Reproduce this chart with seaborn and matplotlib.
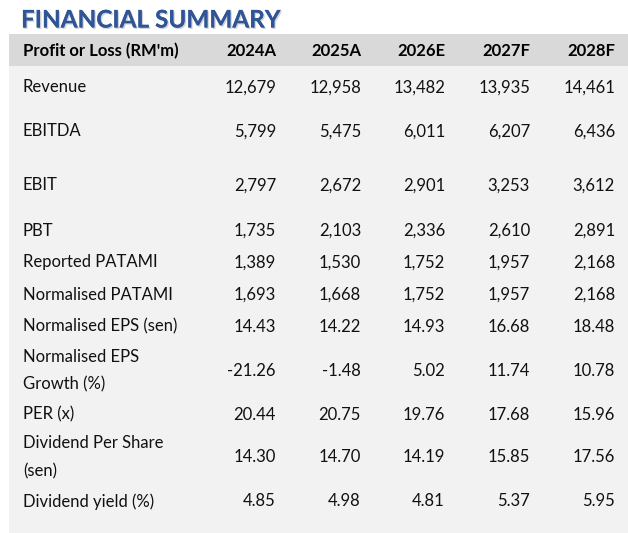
import matplotlib
matplotlib.use("Agg")
import matplotlib.pyplot as plt
import matplotlib.patheffects as pe
import seaborn as sns
import pandas as pd

sns.set_theme(style="white")
plt.rcParams["font.family"] = ["Lato", "DejaVu Sans"]

# --- data ---
title = "FINANCIAL SUMMARY"
header_label = "Profit or Loss (RM'm)"
years = ["2024A", "2025A", "2026E", "2027F", "2028F"]
metrics = ["Revenue", "EBITDA", "EBIT", "PBT", "Reported PATAMI",
           "Normalised PATAMI", "Normalised EPS (sen)",
           "Normalised EPS\nGrowth (%)", "PER (x)",
           "Dividend Per Share\n(sen)", "Dividend yield (%)"]
revenue = [12679, 12958, 13482, 13935, 14461]
ebitda = [5799, 5475, 6011, 6207, 6436]
ebit = [2797, 2672, 2901, 3253, 3612]
pbt = [1735, 2103, 2336, 2610, 2891]
reported_patami = [1389, 1530, 1752, 1957, 2168]
normalised_patami = [1693, 1668, 1752, 1957, 2168]
normalised_eps = [14.43, 14.22, 14.93, 16.68, 18.48]
eps_growth = [-21.26, -1.48, 5.02, 11.74, 10.78]
per = [20.44, 20.75, 19.76, 17.68, 15.96]
dps = [14.30, 14.70, 14.19, 15.85, 17.56]
div_yield = [4.85, 4.98, 4.81, 5.37, 5.95]
is_integer = [True, True, True, True, True, True, False, False, False, False, False]

df = pd.DataFrame([revenue, ebitda, ebit, pbt, reported_patami, normalised_patami,
                   normalised_eps, eps_growth, per, dps, div_yield],
                  index=metrics, columns=years)

# --- layout (pixels) ---
W, H = 628, 533
row_centers = [86, 130, 184, 229, 261, 293, 325, 369, 413, 456, 500]
col_right = [276, 361, 445, 530, 615]
label_x = 23
line_gap = 14

fig = plt.figure(figsize=(W / 100, H / 100), dpi=100)
ax = fig.add_axes([0, 0, 1, 1])
ax.set_xlim(0, W)
ax.set_ylim(H, 0)
ax.axis("off")

ax.add_patch(plt.Rectangle((9, 34), W - 9, 32, color="#D9D9D9", lw=0))
ax.add_patch(plt.Rectangle((9, 66), W - 9, H - 66, color="#F2F2F2", lw=0))

ax.text(21, 18, title, fontsize=17.5, fontweight="bold", color="#2F5597",
        va="center_baseline", ha="left",
        path_effects=[pe.withSimplePatchShadow(offset=(1, -1), alpha=0.2), pe.Normal()])

fs = 12
ax.text(label_x, 50, header_label, fontsize=fs, fontweight="bold", color="black",
        va="center_baseline", ha="left")
for x, yr in zip(col_right, years):
    ax.text(x, 50, yr, fontsize=fs, fontweight="bold", color="black",
            va="center_baseline", ha="right")

for i, (name, yc) in enumerate(zip(metrics, row_centers)):
    lines = name.split("\n")
    if len(lines) == 1:
        ax.text(label_x, yc, lines[0], fontsize=fs, color="#111111",
                va="center_baseline", ha="left")
    else:
        ax.text(label_x, yc - line_gap, lines[0], fontsize=fs, color="#111111",
                va="center_baseline", ha="left")
        ax.text(label_x, yc + line_gap, lines[1], fontsize=fs, color="#111111",
                va="center_baseline", ha="left")
    for x, yr in zip(col_right, years):
        v = df.loc[name, yr]
        s = f"{v:,.0f}" if is_integer[i] else f"{v:.2f}"
        ax.text(x, yc, s, fontsize=fs, color="#111111", va="center_baseline", ha="right")

fig.savefig("out.png", dpi=100)
